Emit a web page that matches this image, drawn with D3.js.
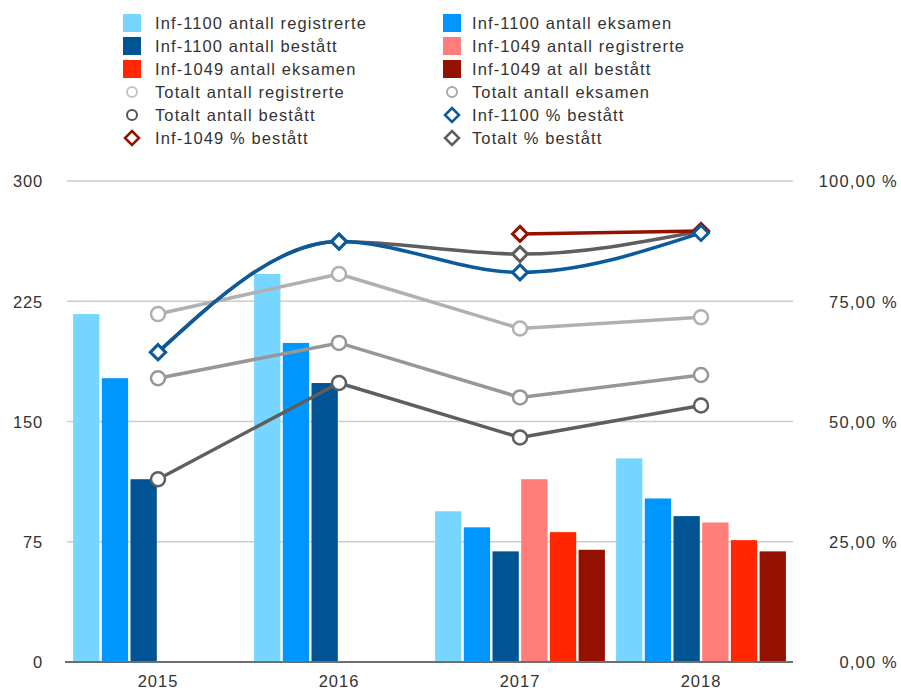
<!DOCTYPE html>
<html>
<head>
<meta charset="utf-8">
<script src="https://cdn.jsdelivr.net/npm/d3@7"></script>
<style>
  html, body { margin: 0; padding: 0; background: #fff; }
  svg { display: block; font-family: "Liberation Sans", Arial, Helvetica, sans-serif; }
</style>
</head>
<body>
<svg id="chart" width="901" height="690"></svg>
<script>
// Student counts per year for the two courses, with totals and pass rates
const years = ["2015", "2016", "2017", "2018"];

const inf1100Registrerte = [217, 242, 94, 127];
const inf1100Eksamen     = [177, 199, 84, 102];
const inf1100Bestatt     = [114, 174, 69, 91];
const inf1049Registrerte = [null, null, 114, 87];
const inf1049Eksamen     = [null, null, 81, 76];
const inf1049Bestatt     = [null, null, 70, 69];

const totaltRegistrerte = [217, 242, 208, 215];
const totaltEksamen     = [177, 199, 165, 179];
const totaltBestatt     = [114, 174, 140, 160];

const inf1100Prosent = [64.4, 87.4, 81.0, 89.2];
const inf1049Prosent = [null, null, 89.0, 89.6];
const totaltProsent  = [64.4, 87.4, 84.8, 89.6];

const leftTicks  = [0, 75, 150, 225, 300];
const rightTicks = [0, 25, 50, 75, 100];

const barSeries = [
  { name: "Inf-1100 antall registrerte", values: inf1100Registrerte, color: "#76d6ff" },
  { name: "Inf-1100 antall eksamen",     values: inf1100Eksamen,     color: "#0096ff" },
  { name: "Inf-1100 antall bestått",     values: inf1100Bestatt,     color: "#005493" },
  { name: "Inf-1049 antall registrerte", values: inf1049Registrerte, color: "#ff7e79" },
  { name: "Inf-1049 antall eksamen",     values: inf1049Eksamen,     color: "#ff2600" },
  { name: "Inf-1049 at all bestått",     values: inf1049Bestatt,     color: "#941100" }
];

const countLines = [
  { name: "Totalt antall registrerte", values: totaltRegistrerte, color: "#b0b0b0", legend: "#c4c4c4" },
  { name: "Totalt antall eksamen",     values: totaltEksamen,     color: "#979797", legend: "#a8a8a8" },
  { name: "Totalt antall bestått",     values: totaltBestatt,     color: "#5e5e5e", legend: "#555555" }
];

const pctLines = [
  { name: "Totalt % bestått",   values: totaltProsent,  color: "#5e5e5e" },
  { name: "Inf-1049 % bestått", values: inf1049Prosent, color: "#941100" },
  { name: "Inf-1100 % bestått", values: inf1100Prosent, color: "#0b5a9c" }
];

const svg = d3.select("#chart");
const plot = { left: 67.5, right: 791.5, top: 181, bottom: 662 };
const font = "Liberation Sans, Arial, sans-serif";

const x = d3.scaleBand().domain(years).range([plot.left, plot.right]);
const xInner = d3.scaleBand()
  .domain(barSeries.map(s => s.name))
  .range([0, x.bandwidth()])
  .paddingInner(0.083)
  .paddingOuter(0.195);
const y = d3.scaleLinear().domain([0, 300]).range([plot.bottom, plot.top]);
const yPct = d3.scaleLinear().domain([0, 100]).range([plot.bottom, plot.top]);
const cx = yr => x(yr) + x.bandwidth() / 2;

// Left and right value axes
const leftAxis = d3.axisLeft(y).tickValues(leftTicks).tickSize(0).tickPadding(0)
  .tickFormat(d3.format("d"));
const gLeft = svg.append("g").attr("transform", `translate(43,0)`).call(leftAxis);
gLeft.select(".domain").remove();
gLeft.selectAll("text").attr("font-size", 16.5).attr("fill", "#333")
  .attr("letter-spacing", 0.8)
  .attr("font-family", font).attr("dy", "0.35em");

const rightAxis = d3.axisRight(yPct).tickValues(rightTicks).tickSize(0).tickPadding(0)
  .tickFormat(d => d3.format(".2f")(d).replace(".", ",") + " %");
const gRight = svg.append("g").attr("transform", `translate(898,0)`).call(rightAxis);
gRight.select(".domain").remove();
gRight.selectAll("text").attr("font-size", 16.5).attr("fill", "#333")
  .attr("text-anchor", "end").attr("letter-spacing", 1.2)
  .attr("font-family", font).attr("dy", "0.35em");

// Gridlines
svg.append("g").selectAll("line")
  .data(leftTicks.filter(t => t > 0))
  .join("line")
  .attr("x1", 67).attr("x2", 793)
  .attr("y1", d => y(d)).attr("y2", d => y(d))
  .attr("stroke", "#cccccc").attr("stroke-width", 1.5);

// Bars
const barData = [];
barSeries.forEach(s => s.values.forEach((v, i) => {
  if (v != null) barData.push({ series: s, year: years[i], value: v });
}));
svg.append("g").selectAll("rect")
  .data(barData)
  .join("rect")
  .attr("x", d => x(d.year) + xInner(d.series.name))
  .attr("width", xInner.bandwidth())
  .attr("y", d => y(d.value))
  .attr("height", d => y(0) - y(d.value))
  .attr("fill", d => d.series.color);

// Baseline
svg.append("line")
  .attr("x1", 65).attr("x2", 793)
  .attr("y1", y(0)).attr("y2", y(0))
  .attr("stroke", "#6e6e6e").attr("stroke-width", 2);

// Year labels
const bottomAxis = d3.axisBottom(x).tickSize(0).tickPadding(0);
const gBottom = svg.append("g").attr("transform", `translate(0,${y(0)})`).call(bottomAxis);
gBottom.select(".domain").remove();
gBottom.selectAll("text").attr("font-size", 16.5).attr("fill", "#333")
  .attr("letter-spacing", 1)
  .attr("font-family", font).attr("y", 25).attr("dy", 0);

// Straight lines with round markers for the totals
const straight = d3.line().defined(d => d.v != null).x(d => cx(d.year)).y(d => y(d.v));
countLines.forEach(s => {
  const pts = s.values.map((v, i) => ({ year: years[i], v }));
  svg.append("path").datum(pts)
    .attr("d", straight).attr("fill", "none")
    .attr("stroke", s.color).attr("stroke-width", 3.5)
    .attr("stroke-linejoin", "round");
  svg.append("g").selectAll("circle")
    .data(pts.filter(d => d.v != null))
    .join("circle")
    .attr("cx", d => cx(d.year)).attr("cy", d => y(d.v)).attr("r", 7)
    .attr("fill", "#fff").attr("stroke", s.color).attr("stroke-width", 2.5);
});

// Smooth lines with diamond markers for the pass rates
const smooth = d3.line().defined(d => d.v != null).curve(d3.curveMonotoneX)
  .x(d => cx(d.year)).y(d => yPct(d.v));
const diamond = (cxp, cyp, r) =>
  `M${cxp},${cyp - r}L${cxp + r},${cyp}L${cxp},${cyp + r}L${cxp - r},${cyp}Z`;
pctLines.forEach(s => {
  const pts = s.values.map((v, i) => ({ year: years[i], v }));
  svg.append("path").datum(pts.filter(d => d.v != null))
    .attr("d", smooth).attr("fill", "none")
    .attr("stroke", s.color).attr("stroke-width", 3.5);
  svg.append("g").selectAll("path")
    .data(pts.filter(d => d.v != null))
    .join("path")
    .attr("d", d => diamond(cx(d.year), yPct(d.v), 7.5))
    .attr("fill", "#fff").attr("stroke", s.color).attr("stroke-width", 3)
    .attr("stroke-linejoin", "miter");
});

// Legend
const legendItems = [
  { name: barSeries[0].name, type: "rect", color: barSeries[0].color },
  { name: barSeries[1].name, type: "rect", color: barSeries[1].color },
  { name: barSeries[2].name, type: "rect", color: barSeries[2].color },
  { name: barSeries[3].name, type: "rect", color: barSeries[3].color },
  { name: barSeries[4].name, type: "rect", color: barSeries[4].color },
  { name: barSeries[5].name, type: "rect", color: barSeries[5].color },
  { name: countLines[0].name, type: "circle", color: countLines[0].legend },
  { name: countLines[1].name, type: "circle", color: countLines[1].legend },
  { name: countLines[2].name, type: "circle", color: countLines[2].legend },
  { name: pctLines[2].name, type: "diamond", color: pctLines[2].color },
  { name: pctLines[1].name, type: "diamond", color: pctLines[1].color },
  { name: pctLines[0].name, type: "diamond", color: pctLines[0].color }
];
const colX = [132, 452];
const textX = [155, 472];
const legend = svg.append("g");
legendItems.forEach((item, i) => {
  const col = i % 2, row = Math.floor(i / 2);
  const my = 23 + row * 23;
  const mx = colX[col];
  if (item.type === "rect") {
    legend.append("rect").attr("x", mx - 9).attr("y", my - 9)
      .attr("width", 18).attr("height", 18).attr("fill", item.color);
  } else if (item.type === "circle") {
    legend.append("circle").attr("cx", mx).attr("cy", my).attr("r", 5)
      .attr("fill", "#fff").attr("stroke", item.color).attr("stroke-width", 2);
  } else {
    legend.append("path").attr("d", diamond(mx, my, 7))
      .attr("fill", "#fff").attr("stroke", item.color).attr("stroke-width", 2.5);
  }
  legend.append("text").attr("x", textX[col]).attr("y", my).attr("dy", "0.35em")
    .attr("font-size", 16.5).attr("fill", "#333").attr("letter-spacing", 1.1)
    .text(item.name);
});
</script>
</body>
</html>
